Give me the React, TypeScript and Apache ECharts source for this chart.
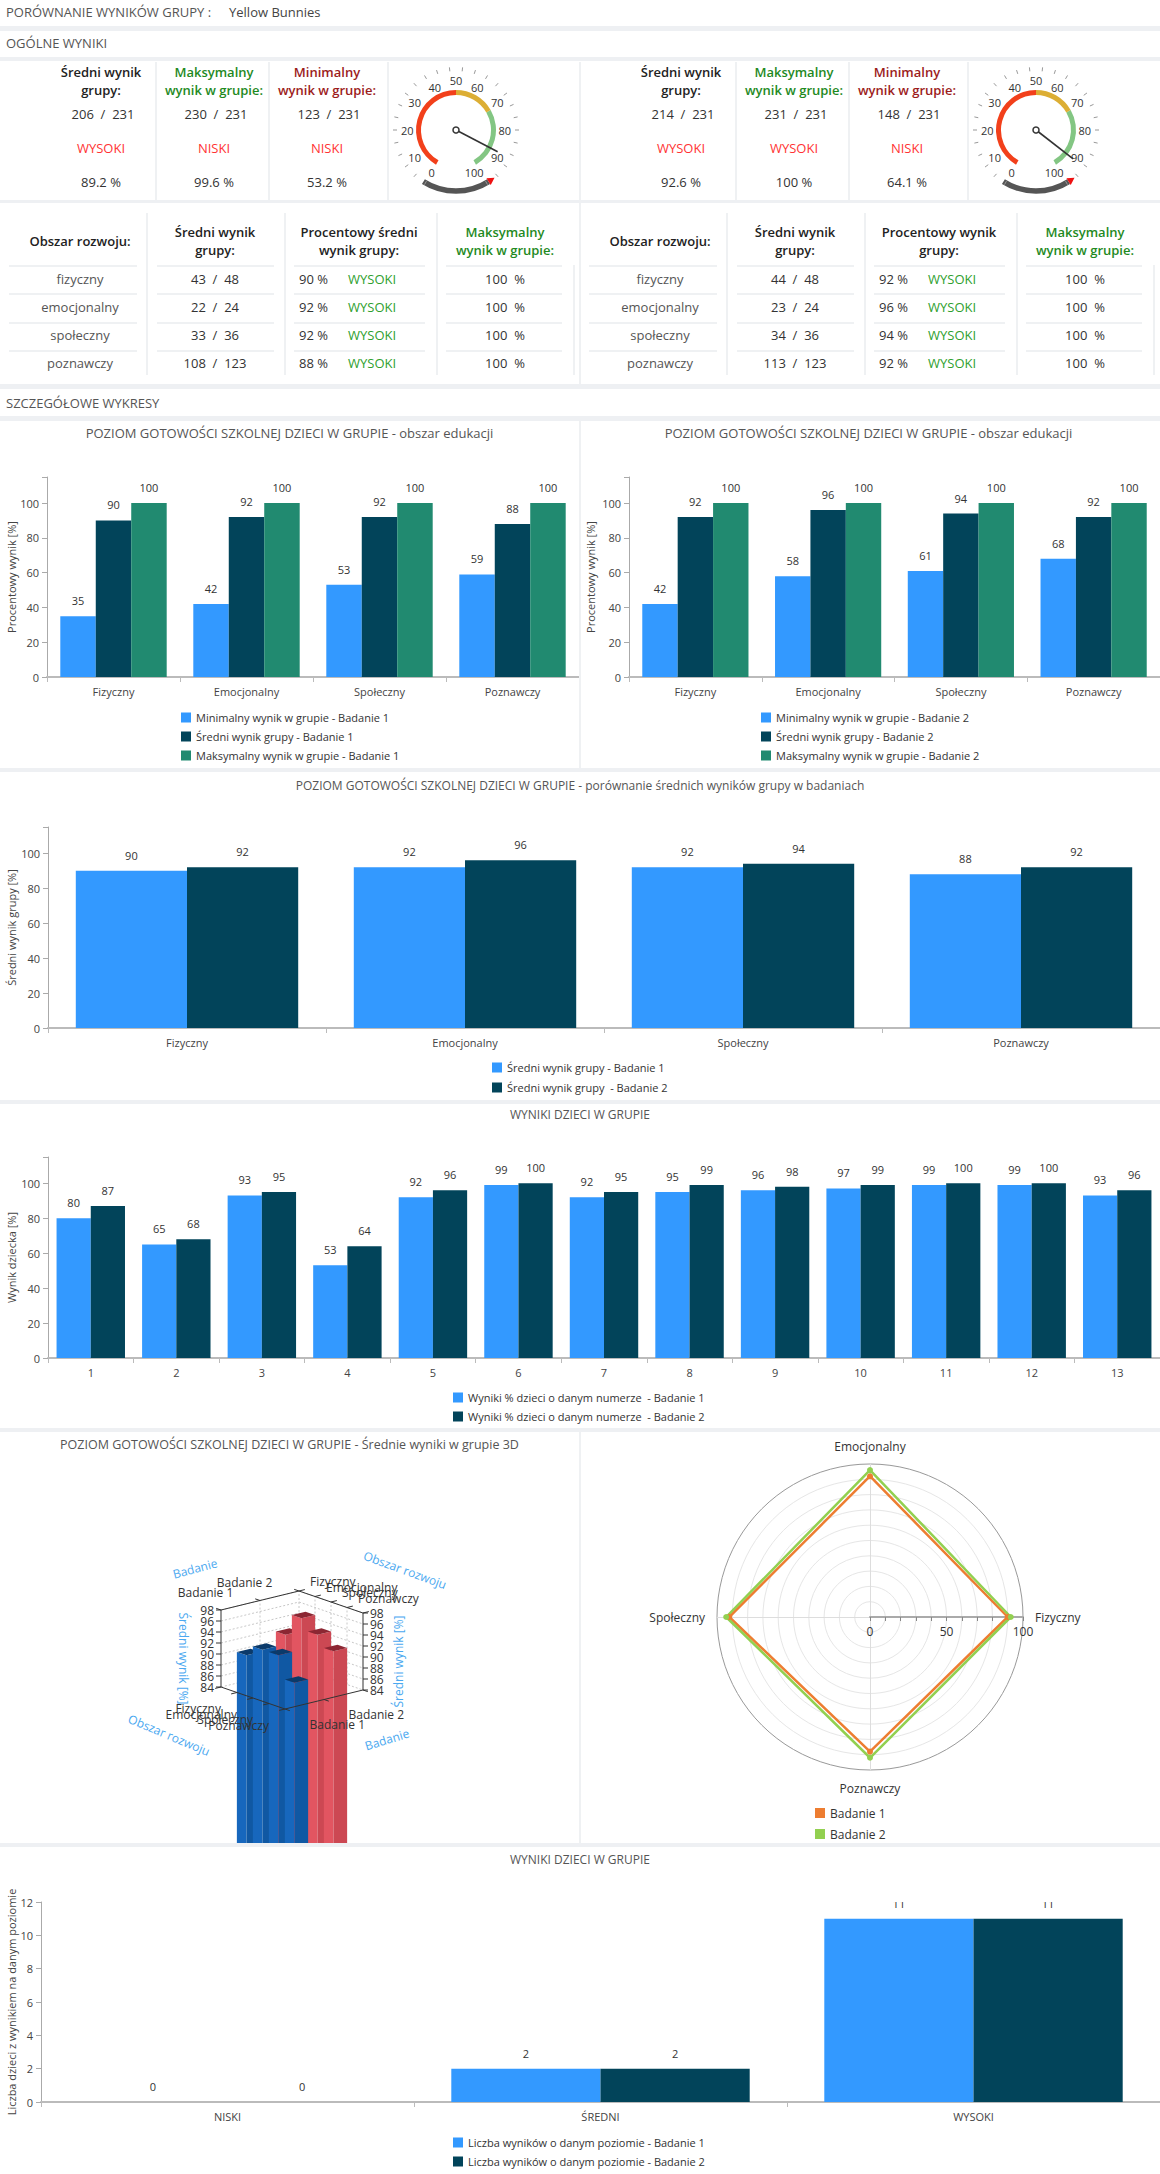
import React, { useEffect, useRef } from 'react';
import * as echarts from 'echarts';

const FONT = '"Open Sans", "Noto Sans", sans-serif';

// ---------- DATA ----------
const groupName = 'Yellow Bunnies';
const summaryTotal = 231;
const summaryScores1 = [206, 230, 123];
const summaryLevels1 = ['WYSOKI', 'NISKI', 'NISKI'];
const summaryPct1 = [89.2, 99.6, 53.2];
const summaryScores2 = [214, 231, 148];
const summaryLevels2 = ['WYSOKI', 'WYSOKI', 'NISKI'];
const summaryPct2 = [92.6, 100, 64.1];

const areaNames = ['fizyczny', 'emocjonalny', 'społeczny', 'poznawczy'];
const areaMaxPoints = [48, 24, 36, 123];
const areaScores1 = [43, 22, 33, 108];
const areaPct1 = [90, 92, 92, 88];
const areaLevels1 = ['WYSOKI', 'WYSOKI', 'WYSOKI', 'WYSOKI'];
const areaMaxPct1 = [100, 100, 100, 100];
const areaScores2 = [44, 23, 34, 113];
const areaPct2 = [92, 96, 94, 92];
const areaLevels2 = ['WYSOKI', 'WYSOKI', 'WYSOKI', 'WYSOKI'];
const areaMaxPct2 = [100, 100, 100, 100];

const categories = ['Fizyczny', 'Emocjonalny', 'Społeczny', 'Poznawczy'];
const minScores1 = [35, 42, 53, 59];
const avgScores1 = [90, 92, 92, 88];
const maxScores1 = [100, 100, 100, 100];
const minScores2 = [42, 58, 61, 68];
const avgScores2 = [92, 96, 94, 92];
const maxScores2 = [100, 100, 100, 100];

const childNumbers = ['1', '2', '3', '4', '5', '6', '7', '8', '9', '10', '11', '12', '13'];
const childScores1 = [80, 65, 93, 53, 92, 99, 92, 95, 96, 97, 99, 99, 93];
const childScores2 = [87, 68, 95, 64, 96, 100, 95, 99, 98, 99, 100, 100, 96];

const levelNames = ['NISKI', 'ŚREDNI', 'WYSOKI'];
const levelCounts1 = [0, 2, 11];
const levelCounts2 = [0, 2, 11];

const studyNames = ['Badanie 1', 'Badanie 2'];
const axis3dTicks = [84, 86, 88, 90, 92, 94, 96, 98];

// ---------- STYLE ----------
const LIGHT = '#3399ff';
const DARK = '#02445a';
const GREEN = '#218a70';
const BAND = '#eef0f3';

function Chart({ left, top, width, height, option }: any) {
  const ref = useRef<HTMLDivElement>(null);
  useEffect(() => {
    const c = echarts.init(ref.current as HTMLDivElement, null, { renderer: 'svg' });
    c.setOption(option);
    return () => c.dispose();
  }, []);
  return <div ref={ref} style={{ position: 'absolute', left, top, width, height }} />;
}

function Txt({ x, y, children, color = '#333', size = 13, weight = 400, align = 'center', lh = 18 }: any) {
  const tx = align === 'center' ? '-50%' : align === 'right' ? '-100%' : '0';
  return (
    <div
      style={{
        position: 'absolute', left: x, top: y, transform: `translate(${tx}, -50%)`, color, fontSize: size,
        fontWeight: weight, fontFamily: FONT, whiteSpace: 'pre', textAlign: align, lineHeight: lh + 'px',
      }}
    >
      {children}
    </div>
  );
}

function Rect({ x, y, w, h, c = BAND }: any) {
  return <div style={{ position: 'absolute', left: x, top: y, width: w, height: h, background: c }} />;
}

// ---------- BAR CHART OPTION ----------
function barOption(cfg: any) {
  const names = cfg.series.map((s: any) => s.name);
  return {
    animation: false,
    textStyle: { fontFamily: FONT },
    title: {
      text: cfg.title, left: 'center', top: cfg.titleTop, padding: 0,
      textStyle: { fontSize: cfg.titleSize || 12, fontWeight: 'normal', color: '#555', lineHeight: 16 },
    },
    grid: { left: cfg.left, right: 0, top: cfg.top, bottom: cfg.bottom, containLabel: false, outerBoundsMode: 'none' },
    legend: {
      orient: 'vertical', left: cfg.legendLeft, top: cfg.legendTop, itemWidth: 10, itemHeight: 10, itemGap: cfg.legendGap,
      icon: 'rect', textStyle: { fontSize: 11, color: '#333' }, data: names, padding: 0,
    },
    xAxis: {
      type: 'category', data: cfg.categories,
      axisLine: { lineStyle: { color: '#bbb', width: 2 } },
      axisTick: { show: true, length: 5, lineStyle: { color: '#bbb' } },
      axisLabel: { fontSize: 11, color: '#444', margin: 9 },
    },
    yAxis: {
      type: 'value', min: 0, max: cfg.yMax, interval: cfg.yInterval,
      name: cfg.yName, nameLocation: 'middle', nameGap: cfg.nameGap, nameMoveOverlap: false,
      nameTextStyle: { fontSize: 11, color: '#444' },
      axisLine: { show: true, lineStyle: { color: '#aaa' } },
      axisTick: { show: true, length: 5, lineStyle: { color: '#aaa' } },
      splitLine: { show: false },
      axisLabel: { fontSize: 11, color: '#444', margin: 8, formatter: (v: number) => (v % cfg.yInterval === 0 ? String(v) : '') },
    },
    series: cfg.series.map((s: any) => ({
      type: 'bar', name: s.name, data: s.data, barGap: '0%', barCategoryGap: '20%',
      itemStyle: { color: s.color },
      label: { show: true, position: 'top', distance: 10, fontSize: 11, color: '#333' },
    })),
    graphic: cfg.graphic || [],
  };
}

// ---------- GAUGE OPTION ----------
function gaugeOption(value: number) {
  const C = [69, 68];
  const R = 61;
  const th = Math.PI / 3 - 0.04;
  const p = [C[0] + R * Math.cos(th), C[1] + R * Math.sin(th)];
  const d = [Math.sin(th), -Math.cos(th)];
  const n = [Math.cos(th), Math.sin(th)];
  const arrow = [
    [p[0] + 7 * d[0], p[1] + 7 * d[1]],
    [p[0] + 4 * n[0], p[1] + 4 * n[1]],
    [p[0] - 4 * n[0], p[1] - 4 * n[1]],
  ];
  return {
    animation: false,
    textStyle: { fontFamily: FONT },
    series: [
      {
        type: 'gauge', center: C, radius: 63, startAngle: 240, endAngle: -60, min: 0, max: 100, splitNumber: 25,
        axisLine: { show: false, lineStyle: { width: 0 } },
        splitLine: { show: true, length: 4, distance: 0, lineStyle: { color: '#999', width: 1 } },
        axisTick: { show: false }, axisLabel: { show: false }, pointer: { show: false }, anchor: { show: false },
        title: { show: false }, detail: { show: false }, data: [{ value: 0 }],
      },
      {
        type: 'gauge', center: C, radius: 40, startAngle: 240, endAngle: -60, min: 0, max: 100, splitNumber: 10,
        axisLine: { lineStyle: { width: 5, color: [[0.5, '#f2401b'], [0.7, '#dcae34'], [1, '#83c683']] } },
        splitLine: { show: false, length: 0, distance: 0 }, axisTick: { show: false },
        axisLabel: { distance: -15, color: '#333', fontSize: 11 },
        pointer: { icon: 'rect', length: 47, width: 1.6, itemStyle: { color: '#333' } },
        anchor: { show: true, showAbove: true, size: 6, itemStyle: { color: '#fff', borderColor: '#333', borderWidth: 1.5 } },
        title: { show: false }, detail: { show: false }, data: [{ value }],
      },
    ],
    graphic: [
      { type: 'arc', shape: { cx: C[0], cy: C[1], r: R, startAngle: th, endAngle: Math.PI - th, clockwise: true }, style: { stroke: '#555', lineWidth: 5.5, fill: null }, silent: true },
      { type: 'polygon', shape: { points: arrow }, style: { fill: '#ee1111' }, silent: true },
    ],
  };
}

// ---------- 3D OPTION ----------
const V3_MIN = 84;
const V3_MAX = 98;
const P3 = { x: 221, y: 255, ax: 16, ay: 5.5, bx: 39, by: -9.5, vs: 5.5 };
function proj(a: number, b: number, v: number) {
  return [P3.x + P3.ax * a + P3.bx * b, P3.y + P3.ay * a + P3.by * b - (v - V3_MIN) * P3.vs];
}
const HA = 0.3;
const HB = 0.175;
const barColors3d = [
  ['#1767bd', '#1058a3', '#0b3a6a'],
  ['#e25561', '#cc4853', '#8c2733'],
];

function option3d() {
  const els: any[] = [];
  const nA = categories.length;
  const nB = studyNames.length;
  const line = (p: number[], q: number[], color = '#333', dash: any = null, z = 10) =>
    els.push({ type: 'line', shape: { x1: p[0], y1: p[1], x2: q[0], y2: q[1] }, style: { stroke: color, lineWidth: 1, lineDash: dash }, z, silent: true });
  const text = (x: number, y: number, t: string, o: any = {}) =>
    els.push({
      type: 'text', x, y, rotation: o.rot || 0, z: 12, silent: true,
      style: { text: t, fill: o.color || '#333', fontSize: o.size || 12, fontFamily: FONT, align: o.align || 'center', verticalAlign: 'middle' },
    });
  axis3dTicks.forEach((v) => {
    line(proj(0, 0, v), proj(0, nB, v), '#c8c8c8', [2, 2], 1);
    line(proj(0, nB, v), proj(nA, nB, v), '#c8c8c8', [2, 2], 1);
  });
  for (let b = 1; b <= nB; b++) line(proj(0, b, V3_MIN), proj(0, b, V3_MAX), '#c8c8c8', [2, 2], 1);
  for (let a = 1; a < nA; a++) line(proj(a, nB, V3_MIN), proj(a, nB, V3_MAX), '#c8c8c8', [2, 2], 1);
  line(proj(0, 0, V3_MIN), proj(nA, 0, V3_MIN));
  line(proj(nA, 0, V3_MIN), proj(nA, nB, V3_MIN));
  line(proj(0, 0, V3_MIN), proj(0, 0, V3_MAX));
  line(proj(nA, nB, V3_MIN), proj(nA, nB, V3_MAX));
  line(proj(0, 0, V3_MAX), proj(0, nB, V3_MAX));
  line(proj(0, nB, V3_MAX), proj(nA, nB, V3_MAX));
  axis3dTicks.forEach((v) => {
    const l = proj(0, 0, v);
    const r = proj(nA, nB, v);
    line(l, [l[0] - 5, l[1]]);
    line(r, [r[0] + 5, r[1]]);
    text(l[0] - 7, l[1], String(v), { align: 'right' });
    text(r[0] + 7, r[1], String(v), { align: 'left' });
  });
  for (let a = 0; a <= nA; a++) {
    line(proj(a, 0, V3_MIN), proj(a, -0.15, V3_MIN));
    line(proj(a, nB, V3_MAX), proj(a, nB + 0.15, V3_MAX));
  }
  for (let b = 0; b <= nB; b++) {
    line(proj(nA, b, V3_MIN), proj(nA + 0.3, b, V3_MIN));
    line(proj(0, b, V3_MAX), proj(-0.3, b, V3_MAX));
  }
  categories.forEach((c, i) => {
    const p = proj(i + 0.5, 0, V3_MIN);
    text(p[0] - 8, p[1] + 19, c, { align: 'right' });
    const q = proj(i + 0.5, nB, V3_MAX);
    text(q[0] + 3, q[1] - 12, c, { align: 'left' });
  });
  studyNames.forEach((s, j) => {
    const p = proj(nA, j + 0.5, V3_MIN);
    text(p[0] + 5, p[1] + 20, s, { align: 'left' });
    const q = proj(0, j + 0.5, V3_MAX);
    text(q[0] - 35, q[1] - 13, s);
  });
  const nameColor = '#4aa8f0';
  const lt = proj(0, 0, (V3_MIN + V3_MAX) / 2);
  const rt = proj(nA, nB, (V3_MIN + V3_MAX) / 2);
  text(lt[0] - 38, lt[1] + 10, 'Średni wynik [%]', { rot: -Math.PI / 2, color: nameColor });
  text(rt[0] + 35, rt[1] + 10, 'Średni wynik [%]', { rot: Math.PI / 2, color: nameColor });
  const tl = proj(0, nB / 2, V3_MAX);
  text(tl[0] - 65, tl[1] - 32, 'Badanie', { rot: 0.26, color: nameColor });
  const tr = proj(nA / 2, nB, V3_MAX);
  text(tr[0] + 74, tr[1] - 32, 'Obszar rozwoju', { rot: -0.35, color: nameColor });
  const bl = proj(nA / 2, 0, V3_MIN);
  text(bl[0] - 84, bl[1] + 37, 'Obszar rozwoju', { rot: -0.4, color: nameColor });
  const br = proj(nA, nB / 2, V3_MIN);
  text(br[0] + 63, br[1] + 40, 'Badanie', { rot: 0.3, color: nameColor });

  const bars3d: number[][] = [];
  [avgScores1, avgScores2].forEach((vals, s) => vals.forEach((v, i) => bars3d.push([i, s, v])));
  bars3d.sort((p, q) => proj(p[0] + 0.5, p[1] + 0.5, V3_MIN)[1] - proj(q[0] + 0.5, q[1] + 0.5, V3_MIN)[1]);

  return {
    animation: false,
    textStyle: { fontFamily: FONT },
    title: {
      text: 'POZIOM GOTOWOŚCI SZKOLNEJ DZIECI W GRUPIE - Średnie wyniki w grupie 3D', left: 'center', top: 4, padding: 0,
      textStyle: { fontSize: 12.5, fontWeight: 'normal', color: '#555', lineHeight: 16 },
    },
    graphic: els,
    series: [
      {
        type: 'custom', coordinateSystem: 'none', z: 5, data: bars3d,
        renderItem: (params: any, api: any) => {
          const i = api.value(0);
          const s = api.value(1);
          const v = api.value(2);
          const cols = barColors3d[s];
          const a0 = i + 0.5 - HA, a1 = i + 0.5 + HA, b0 = s + 0.5 - HB, b1 = s + 0.5 + HB;
          const front = [proj(a0, b0, v), proj(a1, b0, v), proj(a1, b0, 0), proj(a0, b0, 0)];
          const side = [proj(a1, b0, v), proj(a1, b1, v), proj(a1, b1, 0), proj(a1, b0, 0)];
          const top = [proj(a0, b0, v), proj(a1, b0, v), proj(a1, b1, v), proj(a0, b1, v)];
          return {
            type: 'group',
            children: [
              { type: 'polygon', shape: { points: front }, style: { fill: cols[0] } },
              { type: 'polygon', shape: { points: side }, style: { fill: cols[1] } },
              { type: 'polygon', shape: { points: top }, style: { fill: cols[2] } },
            ],
          };
        },
      },
    ],
  };
}

// ---------- RADAR OPTION ----------
function radarOption() {
  const ringColors = ['#e6e6e6', '#e6e6e6', '#e6e6e6', '#e6e6e6', '#e6e6e6', '#e6e6e6', '#e6e6e6', '#e6e6e6', '#e6e6e6', '#e6e6e6', '#999'];
  return {
    animation: false,
    textStyle: { fontFamily: FONT },
    color: ['#ed7d31', '#92d050'],
    legend: {
      orient: 'vertical', left: 235, top: 375, itemWidth: 10, itemHeight: 10, itemGap: 9, icon: 'rect', padding: 0,
      textStyle: { fontSize: 12, color: '#333' }, data: studyNames,
    },
    radar: {
      center: [290, 185], radius: 153, startAngle: 0, splitNumber: 10, shape: 'circle', nameGap: 12,
      indicator: categories.map((n) => ({ name: n, min: 0, max: 100 })),
      axisName: { color: '#333', fontSize: 12 },
      splitLine: { lineStyle: { color: ringColors } },
      splitArea: { show: false },
      axisLine: { lineStyle: { color: '#ddd' } },
      axisTick: { show: false }, axisLabel: { show: false },
    },
    grid: { left: 290, top: 184, width: 153, height: 1, outerBoundsMode: 'none' },
    xAxis: {
      type: 'value', min: 0, max: 100, interval: 10,
      axisLine: { show: true, lineStyle: { color: '#aaa', width: 2 } },
      axisTick: { show: true, length: 4, lineStyle: { color: '#888' } },
      splitLine: { show: false },
      axisLabel: { fontSize: 12, color: '#333', margin: 8, formatter: (v: number) => (v % 50 === 0 ? String(v) : '') },
    },
    yAxis: { type: 'value', show: false },
    series: [
      {
        type: 'radar', symbol: 'circle', symbolSize: 6, lineStyle: { width: 2.5 },
        data: [
          { name: studyNames[0], value: avgScores1 },
          { name: studyNames[1], value: avgScores2 },
        ],
      },
    ],
  };
}

// ---------- HTML BLOCKS ----------
const cardCols = [101, 214, 327];
const cardHeaders = [['Średni wynik', 'grupy:'], ['Maksymalny', 'wynik w grupie:'], ['Minimalny', 'wynik w grupie:']];
const cardHeaderColors = ['#222', '#1f8a1f', '#9c1c1c'];

function SummaryCard({ ox, scores, levels, pcts }: any) {
  return (
    <>
      {cardCols.map((cx, k) => (
        <React.Fragment key={k}>
          <Txt x={ox + cx} y={81} color={cardHeaderColors[k]} weight={600} size={13}>
            {cardHeaders[k][0] + '\n' + cardHeaders[k][1]}
          </Txt>
          <Txt x={ox + cx + 2} y={114} size={13}>{`${scores[k]}  /  ${summaryTotal}`}</Txt>
          <Txt x={ox + cx} y={148} color="#ff3333" size={13}>{levels[k]}</Txt>
          <Txt x={ox + cx} y={182} size={13}>{`${pcts[k]} %`}</Txt>
        </React.Fragment>
      ))}
    </>
  );
}

const tableCols = [80, 215, 359, 505];
const rowYs = [279, 307, 335, 363];
const rowLineYs = [265, 293, 322, 350];
const rowLineSpans = [[9, 137], [157, 274], [294, 425], [446, 562]];

function AreaTable({ ox, pctHeader, scores, pcts, levels, maxPcts }: any) {
  const headers = [['Obszar rozwoju:'], ['Średni wynik', 'grupy:'], pctHeader, ['Maksymalny', 'wynik w grupie:']];
  return (
    <>
      {headers.map((h, k) => (
        <Txt key={'h' + k} x={ox + tableCols[k]} y={241} weight={600} size={13} color={k === 3 ? '#1f8a1f' : '#222'}>
          {h.join('\n')}
        </Txt>
      ))}
      {rowLineYs.map((y, r) =>
        rowLineSpans.map((sp, k) => <Rect key={`l${r}-${k}`} x={ox + sp[0]} y={y} w={sp[1] - sp[0]} h={2} c="#eff1f3" />)
      )}
      {areaNames.map((n, r) => (
        <React.Fragment key={'r' + r}>
          <Txt x={ox + tableCols[0]} y={rowYs[r]} color="#555">{n}</Txt>
          <Txt x={ox + tableCols[1]} y={rowYs[r]}>{`${scores[r]}  /  ${areaMaxPoints[r]}`}</Txt>
          <Txt x={ox + 299} y={rowYs[r]} align="left">{`${pcts[r]} %`}</Txt>
          <Txt x={ox + 348} y={rowYs[r]} align="left" color="#2ea02e">{levels[r]}</Txt>
          <Txt x={ox + tableCols[3]} y={rowYs[r]}>{`${maxPcts[r]}  %`}</Txt>
        </React.Fragment>
      ))}
      {[146, 284, 436].map((x) => <Rect key={'v' + x} x={ox + x} y={213} w={2} h={162} c="#eff1f3" />)}
      <Rect x={ox + 573} y={265} w={2} h={110} c="#eff1f3" />
    </>
  );
}

export default function App() {
  const opt1 = barOption({
    title: 'POZIOM GOTOWOŚCI SZKOLNEJ DZIECI W GRUPIE - obszar edukacji', titleTop: 4, titleSize: 13,
    categories, left: 47, top: 56, bottom: 91, yMax: 115, yInterval: 20, yName: 'Procentowy wynik [%]', nameGap: 30,
    legendLeft: 181, legendTop: 291, legendGap: 8,
    series: [
      { name: 'Minimalny wynik w grupie - Badanie 1', data: minScores1, color: LIGHT },
      { name: 'Średni wynik grupy - Badanie 1', data: avgScores1, color: DARK },
      { name: 'Maksymalny wynik w grupie - Badanie 1', data: maxScores1, color: GREEN },
    ],
  });
  const opt2 = barOption({
    title: 'POZIOM GOTOWOŚCI SZKOLNEJ DZIECI W GRUPIE - obszar edukacji', titleTop: 4, titleSize: 13,
    categories, left: 52, top: 56, bottom: 91, yMax: 115, yInterval: 20, yName: 'Procentowy wynik [%]', nameGap: 33,
    legendLeft: 184, legendTop: 291, legendGap: 8,
    series: [
      { name: 'Minimalny wynik w grupie - Badanie 2', data: minScores2, color: LIGHT },
      { name: 'Średni wynik grupy - Badanie 2', data: avgScores2, color: DARK },
      { name: 'Maksymalny wynik w grupie - Badanie 2', data: maxScores2, color: GREEN },
    ],
  });
  const optMean = barOption({
    title: 'POZIOM GOTOWOŚCI SZKOLNEJ DZIECI W GRUPIE - porównanie średnich wyników grupy w badaniach', titleTop: 5,
    categories, left: 48, top: 55, bottom: 72, yMax: 115, yInterval: 20, yName: 'Średni wynik grupy [%]', nameGap: 31,
    legendLeft: 492, legendTop: 290, legendGap: 9,
    series: [
      { name: 'Średni wynik grupy - Badanie 1', data: avgScores1, color: LIGHT },
      { name: 'Średni wynik grupy  - Badanie 2', data: avgScores2, color: DARK },
    ],
  });
  const optChildren = barOption({
    title: 'WYNIKI DZIECI W GRUPIE', titleTop: 2,
    categories: childNumbers, left: 48, top: 53, bottom: 70, yMax: 115, yInterval: 20, yName: 'Wynik dziecka [%]', nameGap: 31,
    legendLeft: 453, legendTop: 288, legendGap: 8,
    series: [
      { name: 'Wyniki % dzieci o danym numerze  - Badanie 1', data: childScores1, color: LIGHT },
      { name: 'Wyniki % dzieci o danym numerze  - Badanie 2', data: childScores2, color: DARK },
    ],
  });
  const optLevels = barOption({
    title: 'WYNIKI DZIECI W GRUPIE', titleTop: 4,
    categories: levelNames, left: 41, top: 55, bottom: 72, yMax: 12, yInterval: 2, yName: 'Liczba dzieci z wynikiem na danym poziomie', nameGap: 24,
    legendLeft: 453, legendTop: 290, legendGap: 8,
    series: [
      { name: 'Liczba wyników o danym poziomie - Badanie 1', data: levelCounts1, color: LIGHT },
      { name: 'Liczba wyników o danym poziomie - Badanie 2', data: levelCounts2, color: DARK },
    ],
    graphic: [{ type: 'rect', shape: { x: 790, y: 30, width: 370, height: 25 }, style: { fill: '#fff' }, z: 1000, zlevel: 0, silent: true }],
  });

  return (
    <div style={{ position: 'absolute', left: 0, top: 0, width: 1160, height: 2174, background: '#fff', overflow: 'hidden', fontFamily: FONT }}>
      <Txt x={6} y={12} align="left" color="#555" size={13}>{'PORÓWNANIE WYNIKÓW GRUPY :'}</Txt>
      <Txt x={229} y={12} align="left" color="#444" size={13}>{groupName}</Txt>
      <Rect x={0} y={26} w={1160} h={5} />
      <Txt x={6} y={43} align="left" color="#555" size={13}>OGÓLNE WYNIKI</Txt>
      <Rect x={0} y={57} w={1160} h={4} />

      {[155, 268, 387, 735, 848, 967].map((x) => <Rect key={'cv' + x} x={x} y={62} w={2} h={138} c="#eff1f3" />)}
      <Rect x={579} y={62} w={2} h={323} c="#eff1f3" />
      <SummaryCard ox={0} scores={summaryScores1} levels={summaryLevels1} pcts={summaryPct1} />
      <SummaryCard ox={580} scores={summaryScores2} levels={summaryLevels2} pcts={summaryPct2} />
      <Chart left={387} top={62} width={192} height={138} option={gaugeOption(summaryPct1[0])} />
      <Chart left={967} top={62} width={193} height={138} option={gaugeOption(summaryPct2[0])} />
      <Rect x={0} y={200} w={1160} h={3} />

      <AreaTable ox={0} pctHeader={['Procentowy średni', 'wynik grupy:']} scores={areaScores1} pcts={areaPct1} levels={areaLevels1} maxPcts={areaMaxPct1} />
      <AreaTable ox={580} pctHeader={['Procentowy wynik', 'grupy:']} scores={areaScores2} pcts={areaPct2} levels={areaLevels2} maxPcts={areaMaxPct2} />

      <Rect x={0} y={384} w={1160} h={5} />
      <Txt x={6} y={403} align="left" color="#555" size={13}>SZCZEGÓŁOWE WYKRESY</Txt>
      <Rect x={0} y={416} w={1160} h={5} />
      <Rect x={579} y={421} w={2} h={347} c="#eff1f3" />
      <Chart left={0} top={421} width={579} height={347} option={opt1} />
      <Chart left={577} top={421} width={583} height={347} option={opt2} />
      <Rect x={0} y={768} w={1160} h={4} />
      <Chart left={0} top={772} width={1160} height={328} option={optMean} />
      <Rect x={0} y={1100} w={1160} h={4} />
      <Chart left={0} top={1104} width={1160} height={324} option={optChildren} />
      <Rect x={0} y={1428} w={1160} h={4} />
      <Rect x={579} y={1432} w={2} h={411} c="#eff1f3" />
      <Chart left={0} top={1432} width={579} height={411} option={option3d()} />
      <Chart left={580} top={1432} width={580} height={411} option={radarOption()} />
      <Rect x={0} y={1843} w={1160} h={4} />
      <Chart left={0} top={1847} width={1160} height={327} option={optLevels} />
    </div>
  );
}
